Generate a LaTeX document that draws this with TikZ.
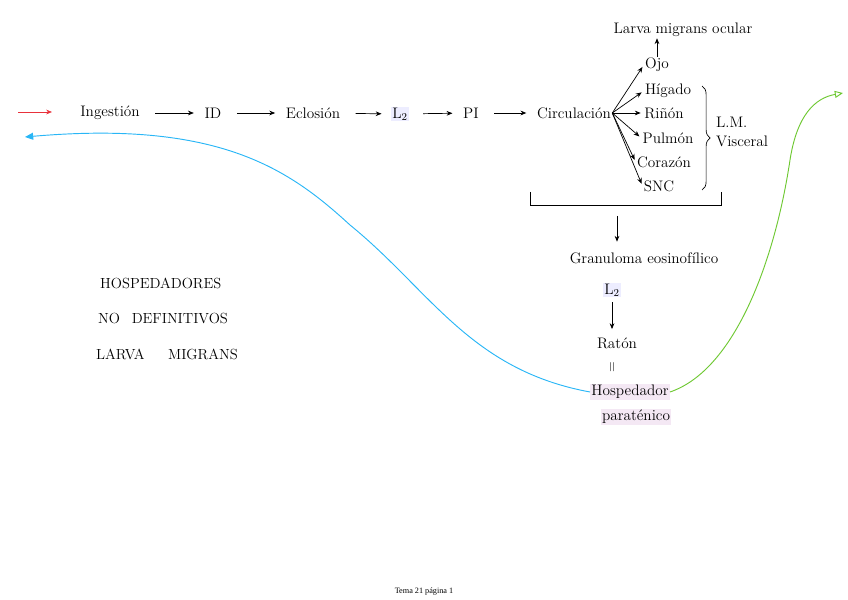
\documentclass[tikz,border=0pt]{standalone}
\usepackage{fontspec}
\newfontfamily\piefont{Liberation Serif}
\usetikzlibrary{arrows.meta,decorations.pathreplacing}
\definecolor{azulcurva}{RGB}{41,182,246}
\definecolor{verdecurva}{RGB}{110,200,50}
\definecolor{rojoflecha}{RGB}{232,49,59}
\tikzset{
  txt/.style={font=\fontsize{13}{15}\selectfont, inner sep=1pt},
  caps/.style={font=\fontsize{12.5}{14}\selectfont, anchor=west},
  marca/.style={fill=blue!7},
  marcalila/.style={fill=violet!9},
  flecha/.style={-{Stealth[length=5pt,width=4pt]}, line width=0.6pt},
  cadena/.style={flecha, shorten <=12pt, shorten >=8pt},
}
\begin{document}
\begin{tikzpicture}[x=0.03cm, y=-0.03cm]
        \useasboundingbox (0,0) rectangle (848,600);
        % cadena principal
        \node[txt] (ing) at (110,113) {Ingestión};
        \node[txt] (id) at (213,113) {ID};
        \node[txt] (ecl) at (313,113) {Eclosión};
        \node[txt,marca] (lA) at (400,114) {L$_2$};
        \node[txt] (pi) at (471,113) {PI};
        \node[txt] (circ) at (574,113) {Circulación};
        \draw[cadena] (ing) -- (id);
        \draw[cadena] (id) -- (ecl);
        \draw[cadena] (ecl) -- (lA);
        \draw[cadena] (lA) -- (pi);
        \draw[cadena] (pi) -- (circ);
        \coordinate (rojoA) at (18,112);
        \coordinate (rojoB) at (52,112);
        \draw[flecha,rojoflecha] (rojoA) -- (rojoB);
        % organos
        \node[txt] (ojo) at (657,65) {Ojo};
        \node[txt] (hig) at (668,91) {Hígado};
        \node[txt] (rin) at (664,113) {Riñón};
        \node[txt] (pul) at (668,138) {Pulmón};
        \node[txt] (cor) at (664,162) {Corazón};
        \node[txt] (snc) at (659,186) {SNC};
        \foreach \o in {ojo,hig,rin,pul,cor,snc} {
          \draw[flecha,shorten >=2pt] (circ.east) -- (\o.west);
        }
        \node[txt] (lmo) at (683,30) {Larva migrans ocular};
        \draw[flecha] (ojo) -- (ojo |- lmo.south);
        \draw[line width=0.6pt,decorate,decoration={brace,amplitude=7pt}]
          (702,86) -- (702,190);
        \node[txt,align=left] (lmv) at (742,132) {L.M.\\[2pt]Visceral};
        % parte de abajo
        \draw[line width=0.6pt] (530,192) -- (530,205) -- (721,205) -- (721,192);
        \coordinate (llave) at (617,216);
        \node[txt] (gran) at (644,258) {Granuloma eosinofílico};
        \node[txt,marca] (lB) at (612,290) {L$_2$};
        \node[txt] (raton) at (617,343) {Ratón};
        \node[txt,rotate=90,font=\fontsize{12}{12}\selectfont] (igual) at (613,367) {=};
        \node[txt,marcalila] (hosp) at (630,392) {Hospedador};
        \node[txt,marcalila] (para) at (636,417) {paraténico};
        \draw[flecha,shorten >=8pt] (llave) -- (llave |- gran.north);
        \draw[flecha,shorten <=4pt,shorten >=6pt] (lB) -- (lB |- raton.north);
        \coordinate (azul) at (25,137);
        \coordinate (verde) at (843,93);
        \draw[line width=0.8pt,azulcurva,-{Triangle[length=7pt,width=6pt]}]
          (hosp.west) .. controls (470,370) and (430,290) .. (350,225)
          .. controls (290,170) and (220,120) .. (azul);
        \draw[line width=0.8pt,verdecurva,-{Triangle[open,length=7pt,width=6pt]}]
          (hosp.east) .. controls (735,370) and (775,260) .. (790,160)
          .. controls (797,115) and (815,98) .. (verde);
        % texto de la izquierda
        \node[caps] (hd) at (96,283) {HOSPEDADORES};
        \node[caps] (nd) at (94,318) {NO\hspace{0.8em}DEFINITIVOS};
        \node[caps] (lm) at (92,354) {LARVA\hspace{1.6em}MIGRANS};
        \node[font=\piefont\fontsize{7}{8}\selectfont] (pie) at (424,592) {Tema 21 página 1};
      \end{tikzpicture}
\end{document}
